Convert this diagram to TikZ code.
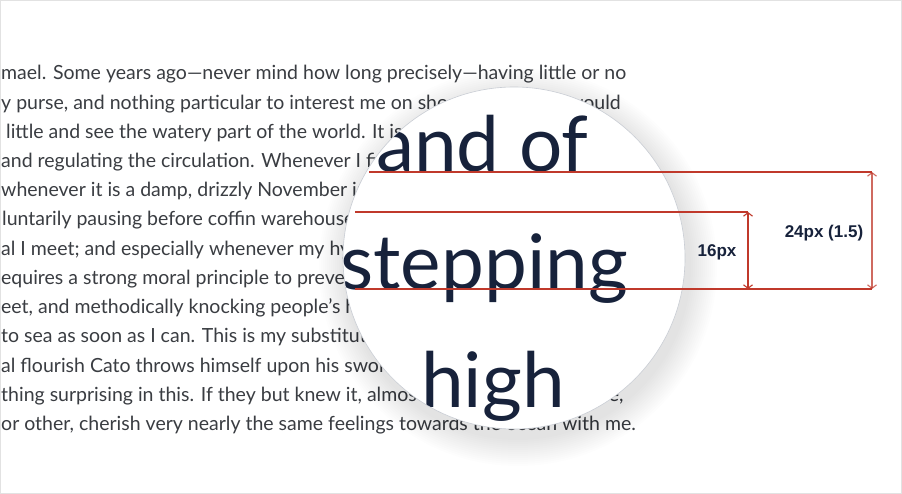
\documentclass[tikz,border=0pt]{standalone}
\usepackage{fontspec}
\setmainfont{Lato}
\newfontfamily\labelfont{Liberation Sans}
\usetikzlibrary{arrows.meta}
\definecolor{bodytext}{HTML}{3A3D42}
\definecolor{navy}{HTML}{17223B}
\definecolor{redline}{HTML}{C0392B}
\definecolor{framegray}{HTML}{E2E2E2}
\definecolor{lensedge}{HTML}{C9CDD4}
\begin{document}
\begin{tikzpicture}[x=1pt,y=-1pt,
  bodyline/.style={anchor=base west, inner sep=0pt, text=bodytext, font=\fontsize{19.5}{19.5}\selectfont},
  bigword/.style={inner sep=0pt, text=navy, font=\fontsize{76.5}{76.5}\selectfont},
  guide/.style={draw=redline, line width=1.1pt},
  dimarrow/.style={draw=redline, line width=1.1pt, {Straight Barb[length=3.5pt,width=9pt]}-{Straight Barb[length=3.5pt,width=9pt]}},
  dimlabel/.style={inner sep=0pt, text=navy, font=\labelfont\bfseries\fontsize{17}{17}\selectfont}]
\useasboundingbox (0,0) rectangle (902,494);
\fill[white] (0,0) rectangle (902,494);
% body text
\node[bodyline] (t1) at (1,80) {mael. Some years ago—never mind how long precisely—having little or no};
\node[bodyline] (t2) at (1,109.2) {y purse, and nothing particular to interest me on shore, I thought I would};
\node[bodyline] (t3) at (6,138.4) {little and see the watery part of the world. It is};
\node[bodyline] (t4) at (1,167.6) {and regulating the circulation. Whenever I find};
\node[bodyline] (t5) at (1,196.8) {whenever it is a damp, drizzly November in};
\node[bodyline] (t6) at (2,226) {luntarily pausing before coffin warehouses,};
\node[bodyline] (t7) at (1,255.2) {al I meet; and especially whenever my hypos};
\node[bodyline] (t8) at (1,284.4) {equires a strong moral principle to prevent};
\node[bodyline] (t9) at (1,313.6) {eet, and methodically knocking people’s hats};
\node[bodyline] (t10) at (1,342.8) {to sea as soon as I can. This is my substitute};
\node[bodyline] (t11) at (1,372) {al flourish Cato throws himself upon his sword;};
\node[bodyline] (t12) at (1,401.2) {thing surprising in this. If they but knew it, almost all men in their degree,};
\node[bodyline] (t13) at (1,430.4) {or other, cherish very nearly the same feelings towards the ocean with me.};
% lens shadow
\foreach \i in {1,...,14}{
  \fill[black, opacity=0.008] (518,267) circle ({171+2*\i});
}
% lens
\coordinate (lc) at (514,258);
\fill[white] (lc) circle (171);
\begin{scope}
  \clip (lc) circle (171);
  \node[bigword, anchor=base west] (w1) at (376,172) {and of};
  \node[bigword, anchor=base east] (w2) at (628,290) {stepping};
  \node[bigword, anchor=base west] (w3) at (421,407) {high};
\end{scope}
\draw[lensedge, line width=0.6pt] (lc) circle (171);
% guide lines
\coordinate (g1a) at (369,172);
\coordinate (g1b) at (872,172);
\coordinate (g2a) at (355,212);
\coordinate (g2b) at (748,212);
\coordinate (g3a) at (355,289);
\coordinate (g3b) at (872,289);
\coordinate (g2c) at (748,289);
\draw[guide] (g1a) -- (g1b);
\draw[guide] (g2a) -- (g2b);
\draw[guide] (g3a) -- (g3b);
\draw[dimarrow] (g2b) -- (g2c);
\draw[dimarrow, draw opacity=0.75] (g1b) -- (g3b);
\node[dimlabel] (l16) at (717,252) {16px};
\node[dimlabel] (l24) at (824,233) {24px (1.5)};
% frame
\draw[framegray, line width=1pt] (0.5,0.5) rectangle (901.5,493.5);
\end{tikzpicture}
\end{document}
